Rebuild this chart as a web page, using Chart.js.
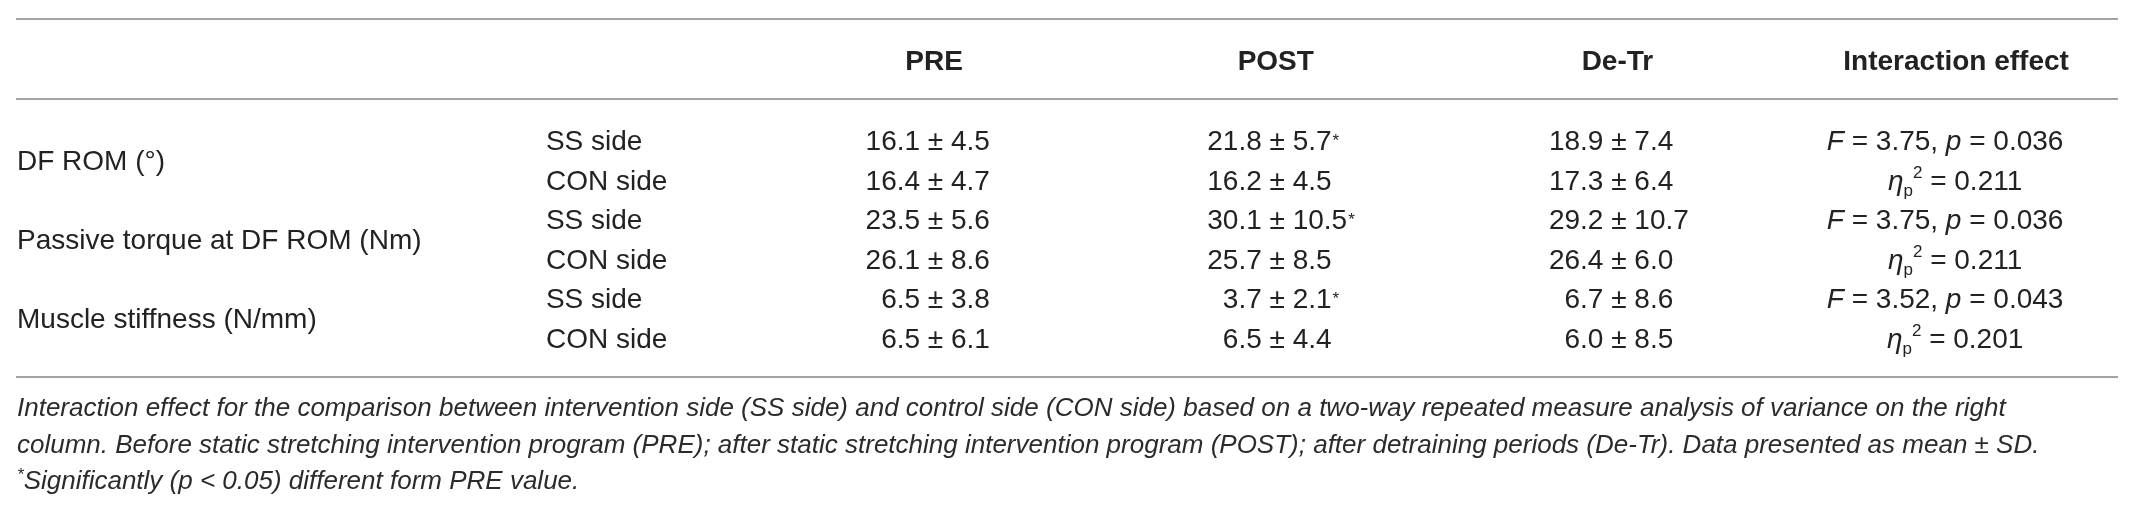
<!DOCTYPE html>
<html>
<head>
<meta charset="utf-8">
<title>SS side vs CON side: DF ROM, passive torque, muscle stiffness</title>
<script src="https://cdn.jsdelivr.net/npm/chart.js@4.4.1/dist/chart.umd.min.js"></script>
<style>
    html, body { margin: 0; padding: 0; background: #fff; }
    #page { position: relative; width: 2141px; height: 517px; overflow: hidden; }
    #chart-box { position: absolute; left: 0; top: 0; width: 2141px; height: 390px; }
    #footnote {
        position: absolute; left: 17px; top: 389px;
        font: italic 26px/36.5px 'Liberation Sans', Arial, sans-serif;
        color: #2b2b2b; white-space: nowrap;
    }
    #footnote sup { font-size: 17px; line-height: 0; vertical-align: 9px; }
</style>
</head>
<body>
<div id="page">
    <div id="chart-box"><canvas id="table-chart"></canvas></div>
    <div id="footnote">Interaction effect for the comparison between intervention side (SS side) and control side (CON side) based on a two-way repeated measure analysis of variance on the right<br>column. Before static stretching intervention program (PRE); after static stretching intervention program (POST); after detraining periods (De-Tr). Data presented as mean ± SD.<br><sup>*</sup>Significantly (p &lt; 0.05) different form PRE value.</div>
</div>
<script>
// Table content
const measures = ['DF ROM (°)', 'Passive torque at DF ROM (Nm)', 'Muscle stiffness (N/mm)'];
const sides = ['SS side', 'CON side'];
const periods = ['PRE', 'POST', 'De-Tr'];
const interactionHeader = 'Interaction effect';

// rows: DF ROM SS, DF ROM CON, torque SS, torque CON, stiffness SS, stiffness CON
const preMean  = [16.1, 16.4, 23.5, 26.1, 6.5, 6.5];
const preSD    = [4.5, 4.7, 5.6, 8.6, 3.8, 6.1];
const postMean = [21.8, 16.2, 30.1, 25.7, 3.7, 6.5];
const postSD   = [5.7, 4.5, 10.5, 8.5, 2.1, 4.4];
const detrMean = [18.9, 17.3, 29.2, 26.4, 6.7, 6.0];
const detrSD   = [7.4, 6.4, 10.7, 6.0, 8.6, 8.5];

// significantly different from PRE value (*)
const preSignificant  = [false, false, false, false, false, false];
const postSignificant = [true, false, true, false, true, false];
const detrSignificant = [false, false, false, false, false, false];

// interaction effect, one per measure
const fValues   = [3.75, 3.75, 3.52];
const pValues   = [0.036, 0.036, 0.043];
const etaValues = [0.211, 0.211, 0.201];

// Styles
const FAMILY = "'Liberation Sans', Arial, sans-serif";
const FONT_BODY = '28px ' + FAMILY;
const FONT_BOLD = 'bold 28px ' + FAMILY;
const FONT_ITALIC = 'italic 28px ' + FAMILY;
const FONT_SMALL = '17px ' + FAMILY;
const TEXT_COLOR = '#222';
const RULE_COLOR = '#a3a3a3';
const CAP_SHIFT = 10;      // from row centre to text baseline
const SIDE_COL = 0.905;    // x value of the side column
const PERIOD_COL = 2;      // x value of the first period column
const INTERACTION_COL = 5;

const periodSeries = [
    { mean: preMean, sd: preSD, sig: preSignificant },
    { mean: postMean, sd: postSD, sig: postSignificant },
    { mean: detrMean, sd: detrSD, sig: detrSignificant }
];

/**
 * Draw a list of text runs centred on x
 */
function drawRuns(ctx, runs, x, baseline) {
    let total = 0;
    runs.forEach(run => {
        ctx.font = run.font;
        run.width = ctx.measureText(run.text).width;
        total += run.width;
    });
    let cx = x - total / 2;
    ctx.textAlign = 'left';
    runs.forEach(run => {
        ctx.font = run.font;
        ctx.fillText(run.text, cx, baseline + (run.dy || 0));
        cx += run.width;
    });
}

const tableText = {
    id: 'tableText',
    afterDatasetsDraw(chart) {
        const { ctx, chartArea, scales } = chart;
        const xs = scales.x;
        const ys = scales.y;
        ctx.save();

        // Rules
        ctx.strokeStyle = RULE_COLOR;
        ctx.lineWidth = 2;
        [chartArea.top - 80, chartArea.top, chartArea.bottom].forEach(y => {
            ctx.beginPath();
            ctx.moveTo(chartArea.left, y);
            ctx.lineTo(chartArea.right, y);
            ctx.stroke();
        });

        ctx.fillStyle = TEXT_COLOR;
        ctx.textBaseline = 'alphabetic';

        // Header row
        const headBase = chartArea.top - 29;
        ctx.font = FONT_BOLD;
        ctx.textAlign = 'center';
        periods.forEach((p, i) => {
            ctx.fillText(p, xs.getPixelForValue(PERIOD_COL + i) + 14, headBase);
        });
        ctx.fillText(interactionHeader, xs.getPixelForValue(INTERACTION_COL) + 11, headBase);

        // Measure and side labels
        ctx.font = FONT_BODY;
        ctx.textAlign = 'left';
        measures.forEach((m, i) => {
            ctx.fillText(m, chartArea.left + 1, ys.getPixelForValue(i * 2 + 0.5) + CAP_SHIFT);
            sides.forEach((s, j) => {
                ctx.fillText(s, xs.getPixelForValue(SIDE_COL), ys.getPixelForValue(i * 2 + j) + CAP_SHIFT);
            });
        });

        // Mean ± SD cells, aligned on the decimal of the mean
        periodSeries.forEach((series, i) => {
            const meta = chart.getDatasetMeta(i);
            meta.data.forEach((pt, r) => {
                const base = pt.y + CAP_SHIFT;
                ctx.font = FONT_BODY;
                ctx.textAlign = 'right';
                ctx.fillText(series.mean[r].toFixed(1), pt.x, base);
                ctx.textAlign = 'left';
                const rest = ' ± ' + series.sd[r].toFixed(1);
                ctx.fillText(rest, pt.x, base);
                if (series.sig[r]) {
                    const w = ctx.measureText(rest).width;
                    ctx.font = FONT_SMALL;
                    ctx.fillText('*', pt.x + w + 1, base - 4);
                }
            });
        });

        // Interaction effect cells
        const imeta = chart.getDatasetMeta(periodSeries.length);
        imeta.data.forEach((pt, i) => {
            const base = pt.y + CAP_SHIFT;
            drawRuns(ctx, [
                { text: 'F', font: FONT_ITALIC },
                { text: ' = ' + fValues[i].toFixed(2) + ', ', font: FONT_BODY },
                { text: 'p', font: FONT_ITALIC },
                { text: ' = ' + pValues[i].toFixed(3), font: FONT_BODY }
            ], pt.x, base);
            const base2 = ys.getPixelForValue(i * 2 + 1) + CAP_SHIFT;
            drawRuns(ctx, [
                { text: 'η', font: FONT_ITALIC },
                { text: 'p', font: FONT_SMALL, dy: 6 },
                { text: '2', font: FONT_SMALL, dy: -12 },
                { text: ' = ' + etaValues[i].toFixed(3), font: FONT_BODY }
            ], pt.x + 10, base2);
        });

        ctx.restore();
    }
};

// Each cell becomes an invisible point placed by the scales
const datasets = periodSeries.map((series, i) => ({
    label: periods[i],
    data: series.mean.map((v, r) => ({ x: PERIOD_COL + i, y: r })),
    pointRadius: 0,
    showLine: false
}));
datasets.push({
    label: interactionHeader,
    data: fValues.map((v, i) => ({ x: INTERACTION_COL, y: i * 2 })),
    pointRadius: 0,
    showLine: false
});

new Chart(document.getElementById('table-chart'), {
    type: 'scatter',
    data: { datasets: datasets },
    options: {
        responsive: true,
        maintainAspectRatio: false,
        animation: false,
        events: [],
        devicePixelRatio: 1,
        layout: { padding: { left: 16, right: 23, top: 99, bottom: 13 } },
        plugins: {
            legend: { display: false },
            tooltip: { enabled: false }
        },
        scales: {
            x: { type: 'linear', display: false, min: -0.646, max: 5.506 },
            y: { type: 'linear', display: false, reverse: true, min: -1.035, max: 5.985 }
        }
    },
    plugins: [tableText]
});
</script>
</body>
</html>
